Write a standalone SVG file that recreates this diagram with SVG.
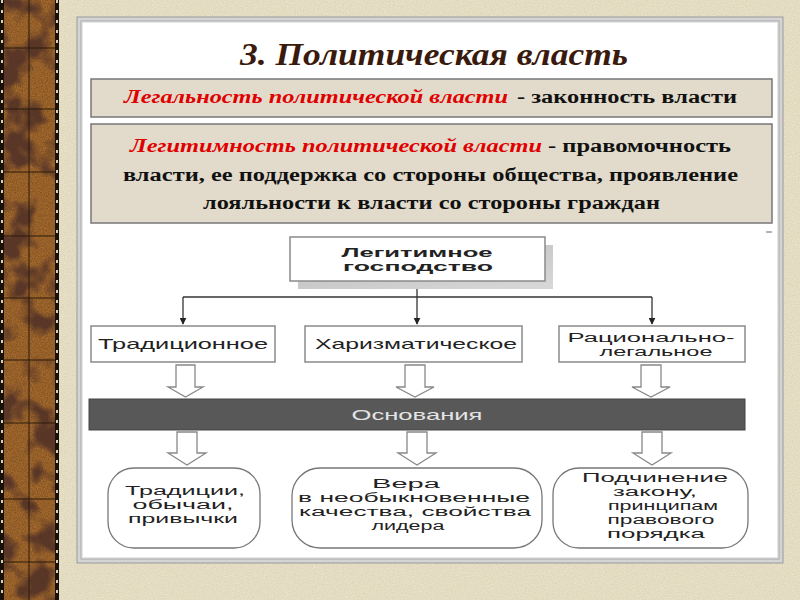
<svg xmlns="http://www.w3.org/2000/svg" width="800" height="600" viewBox="0 0 800 600">
<defs>
<style>
.ser{font-family:"Liberation Serif","Times New Roman",serif;font-weight:bold;font-size:18px}
.red{fill:#e00000;font-style:italic}
.blk{fill:#111}
.sans{font-family:"Liberation Sans",Arial,sans-serif;font-size:15px;fill:#222}
.sm{font-size:12.5px}
.sb{font-family:"Liberation Sans",Arial,sans-serif;font-size:13px;font-weight:bold;fill:#222}
.bx{fill:#fff;stroke:#8a8a8a;stroke-width:1.5}
.def{fill:#e2dbcb;stroke:#777;stroke-width:1.5}
.hol{fill:#fff;stroke:#888;stroke-width:1.3}
.ln{fill:none;stroke:#333;stroke-width:1.3}
.rb{fill:#fff;stroke:#777;stroke-width:1.3}
.grid{stroke:#2a1a0a;stroke-width:1}
</style>
<marker id="ah" viewBox="0 0 10 10" refX="9" refY="5" markerWidth="7" markerHeight="7" orient="auto" markerUnits="userSpaceOnUse">
<path d="M0,0 L10,5 L0,10 z" fill="#222"/>
</marker>
<filter id="paper" x="0" y="0" width="100%" height="100%" color-interpolation-filters="sRGB">
<feTurbulence type="fractalNoise" baseFrequency="0.9" numOctaves="2" seed="3" result="n"/>
<feColorMatrix in="n" type="matrix" values="0 0 0 0 0.6  0 0 0 0 0.55  0 0 0 0 0.4  0 0 0 0.3 -0.05"/>
</filter>
<filter id="wood" x="0" y="0" width="100%" height="100%" color-interpolation-filters="sRGB">
<feTurbulence type="fractalNoise" baseFrequency="0.03" numOctaves="3" seed="7" result="n"/>
<feColorMatrix in="n" type="matrix" values="0 0 0 0 0.36  0 0 0 0 0.22  0 0 0 0 0.17  5 0 0 0 -2.3"/>
</filter>
<filter id="grain" x="0" y="0" width="100%" height="100%" color-interpolation-filters="sRGB">
<feTurbulence type="fractalNoise" baseFrequency="0.8" numOctaves="2" seed="11" result="n"/>
<feColorMatrix in="n" type="matrix" values="0 0 0 0 0.3  0 0 0 0 0.18  0 0 0 0 0.08  0 0 0 0.8 -0.2"/>
</filter>
<linearGradient id="shd" x1="0" y1="0" x2="1" y2="1">
<stop offset="0" stop-color="#bdbdbd"/>
<stop offset="1" stop-color="#d8d8d8"/>
</linearGradient>
</defs>

<!-- background -->
<rect x="0" y="0" width="800" height="600" fill="#ece5cc"/>
<rect x="0" y="0" width="800" height="600" filter="url(#paper)"/>

<!-- wood strip -->
<g id="strip">
<rect x="0" y="0" width="59" height="600" fill="#1a120a"/>
<rect x="4" y="0" width="51" height="600" fill="#a86c2e"/>
<rect x="4" y="0" width="51" height="600" filter="url(#wood)"/>
<rect x="4" y="0" width="51" height="600" filter="url(#grain)"/>
<line class="grid" x1="29" y1="0" x2="29" y2="600"/>
<line class="grid" x1="4" y1="48" x2="55" y2="48"/>
<line class="grid" x1="4" y1="109" x2="55" y2="109"/>
<line class="grid" x1="4" y1="172" x2="55" y2="172"/>
<line class="grid" x1="4" y1="236" x2="55" y2="236"/>
<line class="grid" x1="4" y1="298" x2="55" y2="298"/>
<line class="grid" x1="4" y1="360" x2="55" y2="360"/>
<line class="grid" x1="4" y1="423" x2="55" y2="423"/>
<line class="grid" x1="4" y1="499" x2="55" y2="499"/>
<line class="grid" x1="4" y1="562" x2="55" y2="562"/>
<line x1="2" y1="0" x2="2" y2="600" stroke="#d8d0b8" stroke-width="2" stroke-dasharray="3 7"/>
<line x1="57" y1="0" x2="57" y2="600" stroke="#d8d0b8" stroke-width="2" stroke-dasharray="3 7"/>
</g>

<!-- slide frame -->
<g id="frame">
<rect x="77" y="17" width="706" height="546" fill="#d4d4d4" stroke="#9a9a9a" stroke-width="1"/>
<rect x="81" y="21" width="698" height="538" fill="#e8e8e8" stroke="#a8a8a8" stroke-width="1"/>
<rect x="83" y="23" width="694" height="534" fill="#ffffff"/>
</g>

<g id="title">
<text x="434" y="65" text-anchor="middle" font-family="'Liberation Serif','Times New Roman',serif" font-weight="bold" font-style="italic" font-size="31" fill="#3a1a0c" textLength="388" lengthAdjust="spacingAndGlyphs">3. Политическая власть</text>
</g>

<g id="legality">
<rect class="def" x="91" y="79" width="681" height="38"/>
<text class="ser red" x="124" y="103" textLength="384" lengthAdjust="spacingAndGlyphs">Легальность политической власти</text>
<text class="ser blk" x="517" y="103" textLength="220" lengthAdjust="spacingAndGlyphs">- законность власти</text>
</g>

<g id="legitimacy">
<rect class="def" x="91" y="124" width="681" height="99"/>
<text class="ser red" x="130" y="152" textLength="412" lengthAdjust="spacingAndGlyphs">Легитимность политической власти</text>
<text class="ser blk" x="548" y="152" textLength="183" lengthAdjust="spacingAndGlyphs">- правомочность</text>
<text class="ser blk" x="123" y="181" textLength="615" lengthAdjust="spacingAndGlyphs">власти, ее поддержка со стороны общества, проявление</text>
<text class="ser blk" x="203" y="209" textLength="457" lengthAdjust="spacingAndGlyphs">лояльности к власти со стороны граждан</text>
</g>

<line x1="766" y1="232" x2="772" y2="232" stroke="#666" stroke-width="1"/>

<g id="root">
<rect x="298" y="245" width="255" height="44" fill="url(#shd)"/>
<rect class="bx" x="290" y="237" width="255" height="44" stroke="#555"/>
<text class="sb" x="417" y="257" text-anchor="middle" textLength="151" lengthAdjust="spacingAndGlyphs">Легитимное</text>
<text class="sb" x="418" y="271" text-anchor="middle" textLength="150" lengthAdjust="spacingAndGlyphs">господство</text>
</g>

<g id="connectors">
<line class="ln" x1="417" y1="289" x2="417" y2="297"/>
<line class="ln" x1="183" y1="297" x2="652" y2="297"/>
<line class="ln" x1="183" y1="297" x2="183" y2="324" marker-end="url(#ah)"/>
<line class="ln" x1="417" y1="297" x2="417" y2="324" marker-end="url(#ah)"/>
<line class="ln" x1="652" y1="297" x2="652" y2="324" marker-end="url(#ah)"/>
<polygon class="hol" points="176,365 195,365 195,387 203,387 185.5,397 168,387 176,387"/>
<polygon class="hol" points="405,365 425,365 425,387 434,387 415,397 396,387 405,387"/>
<polygon class="hol" points="641,365 661,365 661,387 670,387 651,397 632,387 641,387"/>
<polygon class="hol" points="177,432 197,432 197,453 206,453 187,465 168,453 177,453"/>
<polygon class="hol" points="407,432 427,432 427,453 436,453 417,465 398,453 407,453"/>
<polygon class="hol" points="642,432 662,432 662,453 671,453 652,465 633,453 642,453"/>
</g>

<g id="traditional">
<rect class="bx" x="91" y="326" width="184" height="36"/>
<text class="sans" x="183" y="349" text-anchor="middle" textLength="170" lengthAdjust="spacingAndGlyphs">Традиционное</text>
</g>

<g id="charismatic">
<rect class="bx" x="305" y="326" width="217" height="36"/>
<text class="sans" x="416" y="349" text-anchor="middle" textLength="202" lengthAdjust="spacingAndGlyphs">Харизматическое</text>
</g>

<g id="rational">
<rect class="bx" x="559" y="326" width="186" height="36"/>
<text class="sans sm" x="651" y="342" text-anchor="middle" textLength="167" lengthAdjust="spacingAndGlyphs">Рационально-</text>
<text class="sans sm" x="656" y="356" text-anchor="middle" textLength="113" lengthAdjust="spacingAndGlyphs">легальное</text>
</g>

<g id="basis">
<rect x="89" y="399" width="656" height="31" fill="#585858" stroke="#444" stroke-width="1"/>
<text class="sans" x="417" y="420" text-anchor="middle" style="fill:#e4e4e4" textLength="131" lengthAdjust="spacingAndGlyphs">Основания</text>
</g>

<g id="traditions">
<rect class="rb" x="108" y="468" width="152" height="80" rx="26" ry="26"/>
<text class="sans sm" x="185" y="495" text-anchor="middle" textLength="120" lengthAdjust="spacingAndGlyphs">Традиции,</text>
<text class="sans sm" x="183" y="509" text-anchor="middle" textLength="101" lengthAdjust="spacingAndGlyphs">обычаи,</text>
<text class="sans sm" x="183" y="523" text-anchor="middle" textLength="110" lengthAdjust="spacingAndGlyphs">привычки</text>
</g>

<g id="faith">
<rect class="rb" x="292" y="468" width="250" height="80" rx="28" ry="28"/>
<text class="sans sm" x="406" y="488" text-anchor="middle" textLength="68" lengthAdjust="spacingAndGlyphs">Вера</text>
<text class="sans sm" x="414" y="502" text-anchor="middle" textLength="232" lengthAdjust="spacingAndGlyphs">в необыкновенные</text>
<text class="sans sm" x="415" y="516" text-anchor="middle" textLength="232" lengthAdjust="spacingAndGlyphs">качества, свойства</text>
<text class="sans sm" x="408" y="530" text-anchor="middle" textLength="73" lengthAdjust="spacingAndGlyphs">лидера</text>
</g>

<g id="law">
<rect class="rb" x="553" y="468" width="195" height="80" rx="26" ry="26"/>
<text class="sans sm" x="655" y="482" text-anchor="middle" textLength="146" lengthAdjust="spacingAndGlyphs">Подчинение</text>
<text class="sans sm" x="655" y="496" text-anchor="middle" textLength="84" lengthAdjust="spacingAndGlyphs">закону,</text>
<text class="sans sm" x="663" y="510" text-anchor="middle" textLength="110" lengthAdjust="spacingAndGlyphs">принципам</text>
<text class="sans sm" x="661" y="524" text-anchor="middle" textLength="107" lengthAdjust="spacingAndGlyphs">правового</text>
<text class="sans sm" x="656" y="538" text-anchor="middle" textLength="98" lengthAdjust="spacingAndGlyphs">порядка</text>
</g>
</svg>
